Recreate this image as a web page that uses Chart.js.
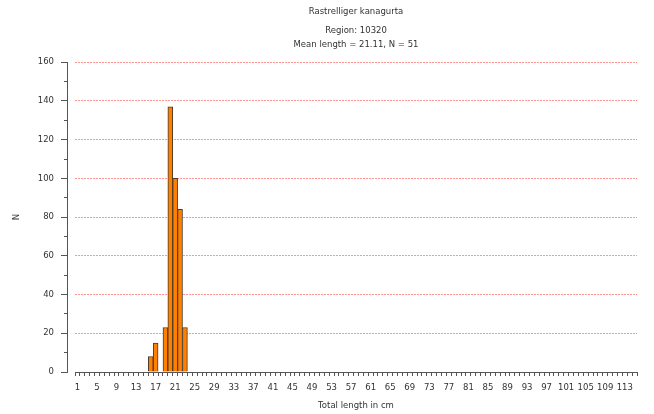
<!DOCTYPE html>
<html>
<head>
<meta charset="utf-8">
<script src="https://cdn.jsdelivr.net/npm/chart.js@4/dist/chart.umd.min.js"></script>
<style>
  html, body { margin: 0; padding: 0; background: #fff; }
  #wrap { width: 654px; height: 414px; }
</style>
</head>
<body>
<div id="wrap"><canvas id="lengthChart" width="654" height="414"></canvas></div>
<script>
// length classes 1..115 cm
const lengthClasses = [
  1, 2, 3, 4, 5, 6, 7, 8, 9, 10, 11, 12, 13, 14, 15, 16, 17, 18, 19, 20,
  21, 22, 23, 24, 25, 26, 27, 28, 29, 30, 31, 32, 33, 34, 35, 36, 37, 38, 39, 40,
  41, 42, 43, 44, 45, 46, 47, 48, 49, 50, 51, 52, 53, 54, 55, 56, 57, 58, 59, 60,
  61, 62, 63, 64, 65, 66, 67, 68, 69, 70, 71, 72, 73, 74, 75, 76, 77, 78, 79, 80,
  81, 82, 83, 84, 85, 86, 87, 88, 89, 90, 91, 92, 93, 94, 95, 96, 97, 98, 99, 100,
  101, 102, 103, 104, 105, 106, 107, 108, 109, 110, 111, 112, 113, 114, 115
];
const counts = [
  0, 0, 0, 0, 0, 0, 0, 0, 0, 0, 0, 0, 0, 0, 0, 8, 15, 0, 23, 137,
  100, 84, 23, 0, 0, 0, 0, 0, 0, 0, 0, 0, 0, 0, 0, 0, 0, 0, 0, 0,
  0, 0, 0, 0, 0, 0, 0, 0, 0, 0, 0, 0, 0, 0, 0, 0, 0, 0, 0, 0,
  0, 0, 0, 0, 0, 0, 0, 0, 0, 0, 0, 0, 0, 0, 0, 0, 0, 0, 0, 0,
  0, 0, 0, 0, 0, 0, 0, 0, 0, 0, 0, 0, 0, 0, 0, 0, 0, 0, 0, 0,
  0, 0, 0, 0, 0, 0, 0, 0, 0, 0, 0, 0, 0, 0, 0
];
const titleLines = ['Rastrelliger kanagurta'];
const subtitleLines = ['Region: 10320', 'Mean length = 21.11, N = 51'];
const yMin = 0;
const yMax = 160;

const font = { family: 'DejaVu Sans', size: 8.5 };
const textColor = '#333';
const axisColor = '#555';

const ctx = document.getElementById('lengthChart').getContext('2d');
const chart = new Chart(ctx, {
  type: 'bar',
  data: {
    labels: lengthClasses,
    datasets: [{
      label: 'N',
      data: counts,
      backgroundColor: '#ff8000',
      borderColor: '#4a3a2a',
      borderWidth: 1,
      barPercentage: 1,
      categoryPercentage: 1,
      yAxisID: 'y'
    }]
  },
  options: {
    responsive: false,
    animation: false,
    layout: { padding: { left: 0, right: 17, top: 0, bottom: 0 } },
    plugins: {
      legend: { display: false },
      tooltip: { enabled: false },
      title: {
        display: true,
        text: titleLines,
        fullSize: false,
        color: textColor,
        font: { ...font, weight: 'normal' },
        padding: { top: 7, bottom: 7 }
      },
      subtitle: {
        display: true,
        text: subtitleLines,
        fullSize: false,
        color: textColor,
        font: { ...font, lineHeight: 1.65 },
        padding: { top: 0, bottom: 10 }
      }
    },
    scales: {
      x: {
        offset: true,
        grid: {
          offset: true,
          drawOnChartArea: false,
          drawTicks: true,
          tickLength: 4,
          tickColor: axisColor
        },
        border: { display: true, color: axisColor },
        ticks: {
          autoSkip: false,
          maxRotation: 0,
          minRotation: 0,
          padding: 7,
          color: textColor,
          font: font,
          callback: function (val, i) {
            return i % 4 === 0 ? this.getLabelForValue(val) : '';
          }
        },
        title: {
          display: true,
          text: 'Total length in cm',
          color: textColor,
          font: font,
          padding: { top: 0, bottom: 3 }
        },
        afterFit: scale => { scale.height = 42; }
      },
      // inner axis: only the dotted red grid lines, leaves a gap before the axis line
      y: {
        position: 'left',
        weight: 0,
        min: yMin,
        max: yMax,
        ticks: { display: false, stepSize: 20 },
        grid: {
          drawTicks: false,
          color: c => c.tick && c.tick.value === 0 ? 'rgba(0,0,0,0)' : 'rgba(255,80,80,0.6)',
          lineWidth: 1
        },
        border: { display: false, dash: [2, 1] },
        afterFit: scale => { scale.width = 8; }
      },
      // outer axis: line, ticks and labels (short ticks on the odd tens)
      y2: {
        position: 'left',
        weight: 1,
        min: yMin,
        max: yMax,
        grid: {
          drawOnChartArea: false,
          drawTicks: true,
          tickLength: 6,
          tickColor: axisColor,
          tickBorderDash: c => (c.tick && c.tick.value % 20 !== 0) ? [3, 3] : [],
          tickBorderDashOffset: c => (c.tick && c.tick.value % 20 !== 0) ? 3 : 0
        },
        border: { display: true, color: axisColor },
        ticks: {
          stepSize: 10,
          padding: 7,
          color: textColor,
          font: font,
          callback: v => v % 20 === 0 ? v : ''
        },
        title: {
          display: true,
          text: 'N',
          color: textColor,
          font: font,
          padding: { top: 12, bottom: 0 }
        },
        afterFit: scale => { scale.width = 67; }
      }
    }
  }
});
</script>
</body>
</html>
